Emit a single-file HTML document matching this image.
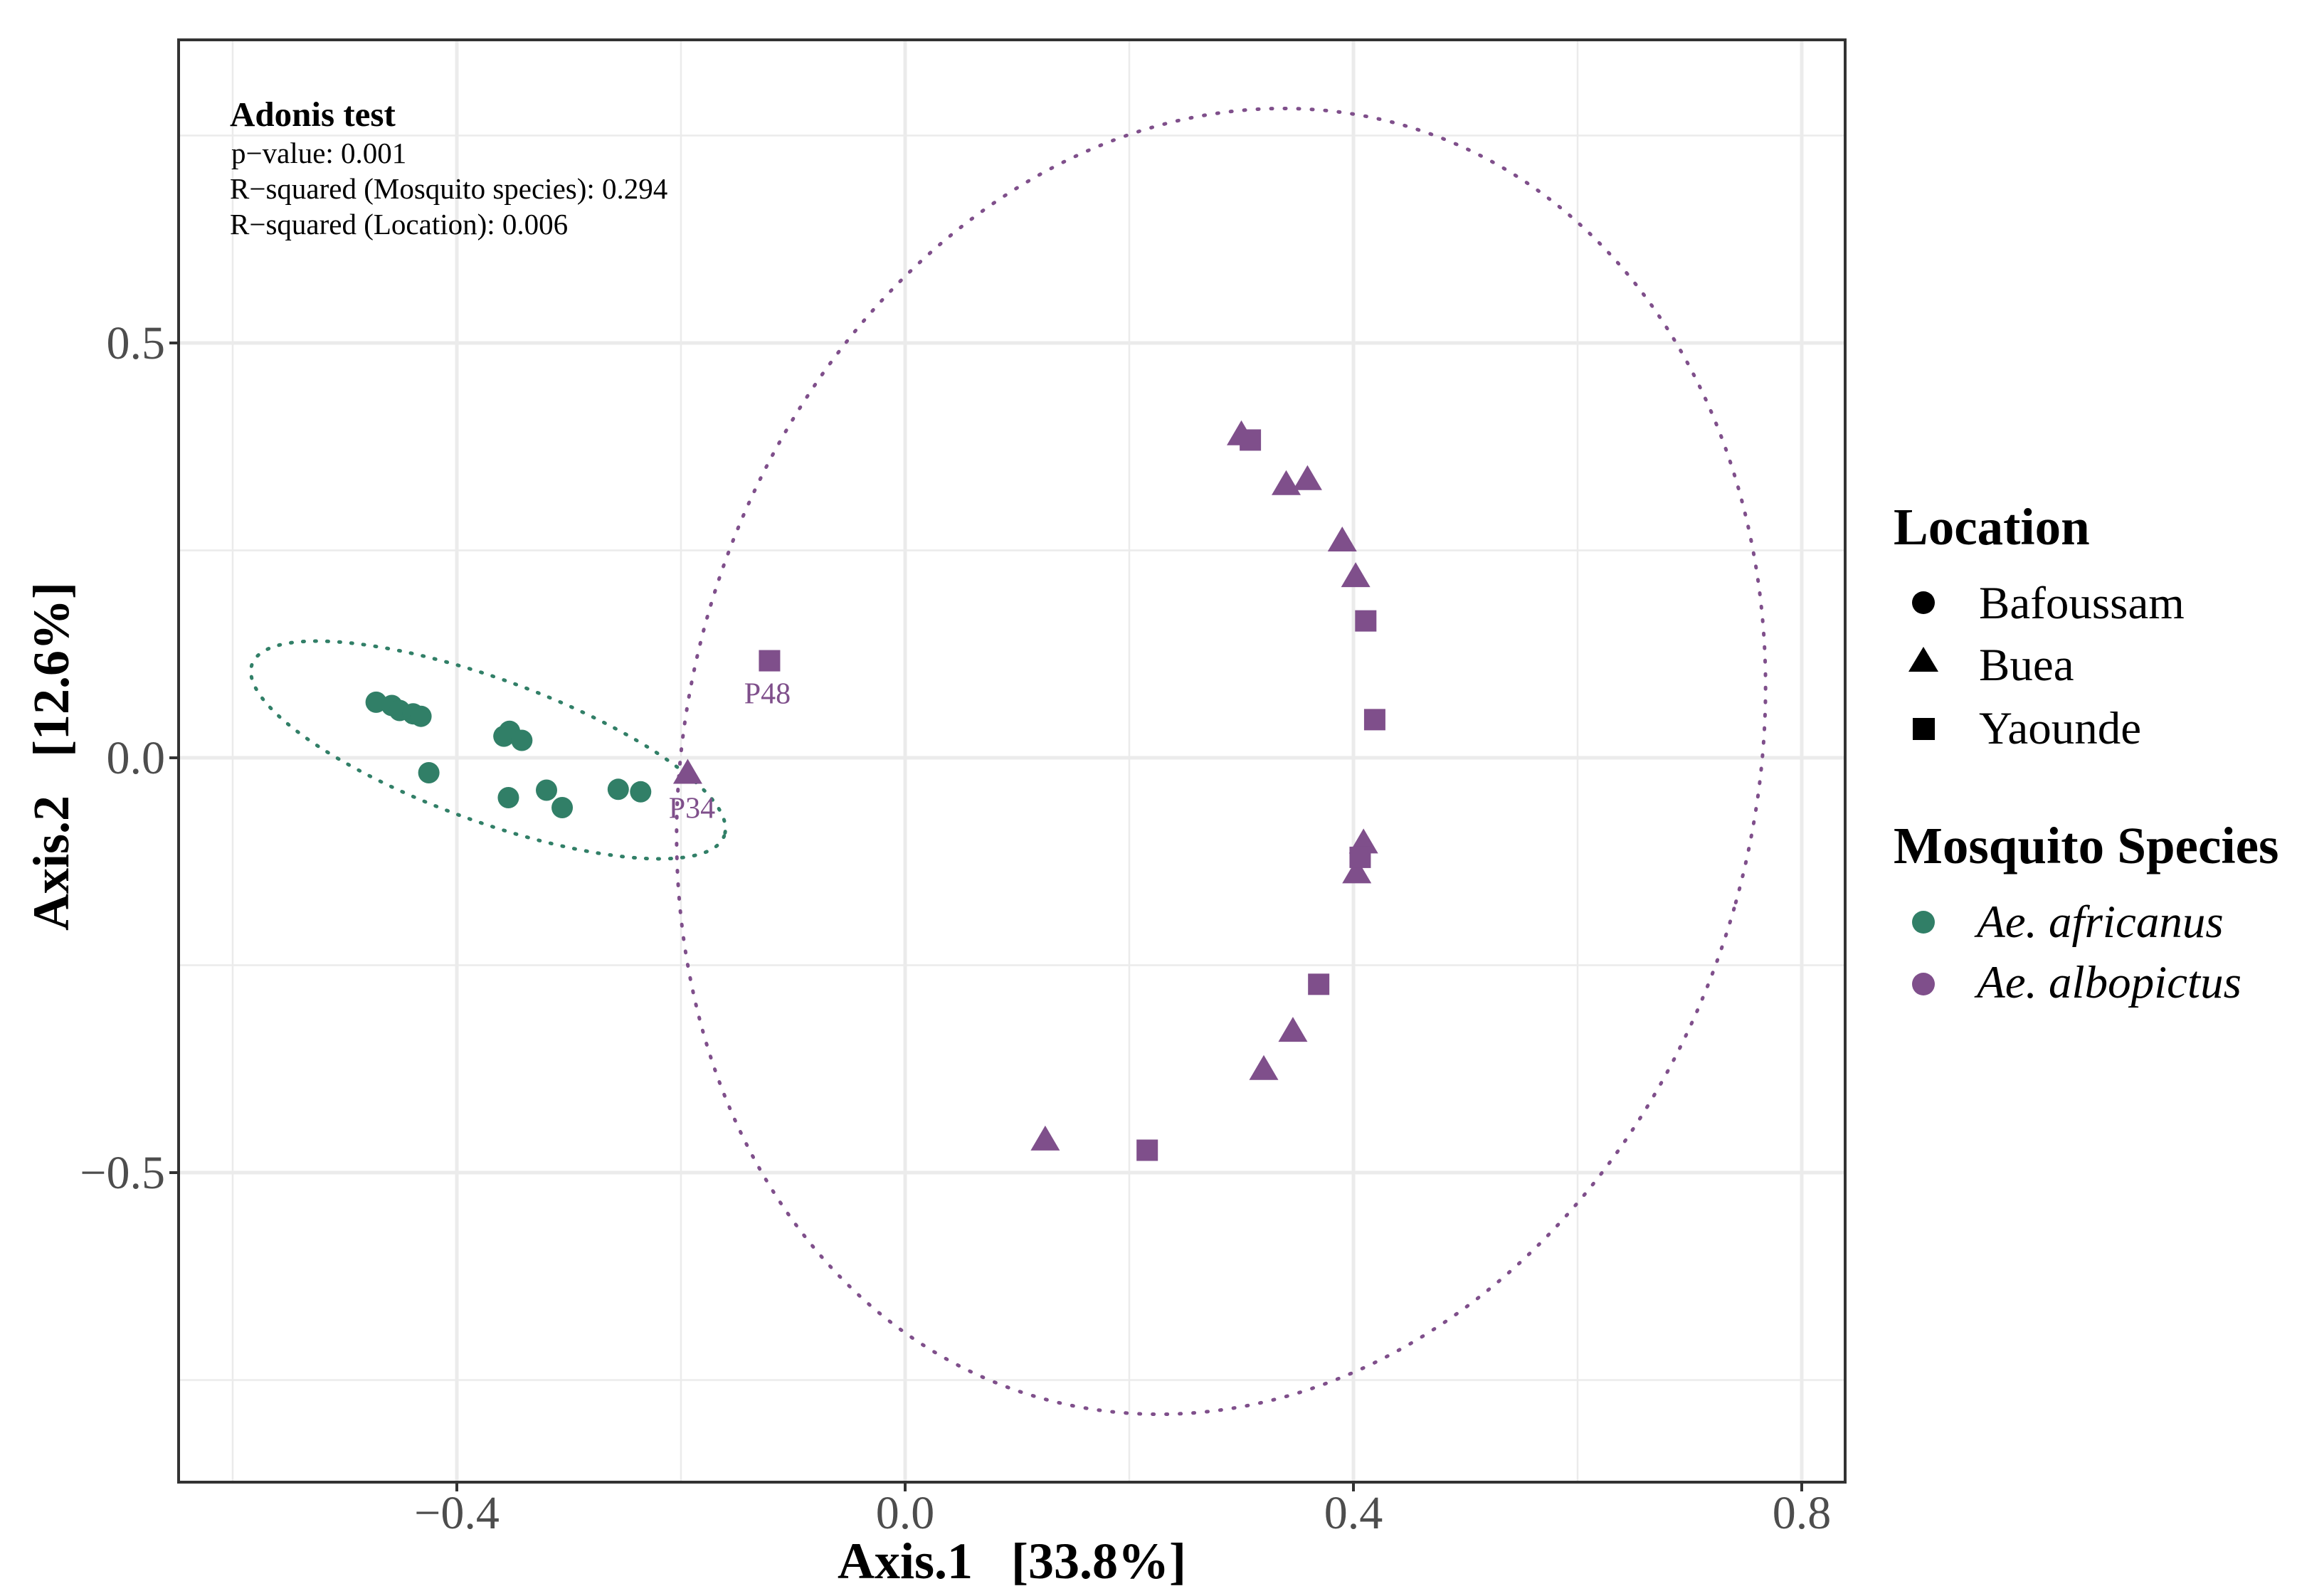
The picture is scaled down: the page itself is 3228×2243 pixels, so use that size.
<!DOCTYPE html>
<html><head><meta charset="utf-8">
<style>
html,body{margin:0;padding:0;background:#fff;}
svg{display:block;}
text{font-family:"Liberation Serif",serif;}
</style></head>
<body>
<svg id="chart" width="3228" height="2243" viewBox="0 0 3228 2243" xmlns="http://www.w3.org/2000/svg">
<rect x="0" y="0" width="3228" height="2243" fill="#fff"/>
<g id="grid"></g>
<g id="ellipses"></g>
<g id="points"></g>
<g id="labels"></g>
<rect x="251" y="56" width="2342" height="2027" fill="none" stroke="#333" stroke-width="4"/>
<g id="axes"></g>
<g>
<text x="323" y="177" font-size="49" font-weight="bold">Adonis test</text>
<text x="325" y="229" font-size="41">p−value: 0.001</text>
<text x="323" y="279" font-size="41">R−squared (Mosquito species): 0.294</text>
<text x="323" y="329" font-size="41">R−squared (Location): 0.006</text>
</g>
<text x="1422" y="2218" font-size="72" font-weight="bold" text-anchor="middle" xml:space="preserve">Axis.1   [33.8%]</text>
<text transform="translate(96,1063) rotate(-90)" font-size="72" font-weight="bold" text-anchor="middle" xml:space="preserve">Axis.2   [12.6%]</text>
<g>
<text x="2661" y="765" font-size="73" font-weight="bold">Location</text>
<circle cx="2703" cy="847" r="16" fill="#000"/>
<text x="2781" y="869" font-size="65">Bafoussam</text>
<polygon points="2682,944 2724,944 2703,909" fill="#000"/>
<text x="2781" y="956" font-size="65">Buea</text>
<rect x="2688" y="1009" width="31" height="31" fill="#000"/>
<text x="2781" y="1045" font-size="65">Yaounde</text>
<text x="2661" y="1213" font-size="73" font-weight="bold">Mosquito Species</text>
<circle cx="2703" cy="1296" r="16" fill="#317F67"/>
<text x="2778" y="1317" font-size="65" font-style="italic">Ae. africanus</text>
<circle cx="2703" cy="1383" r="16" fill="#7F4F8B"/>
<text x="2778" y="1402" font-size="65" font-style="italic">Ae. albopictus</text>
</g>
</svg>
<script>
const greenX = [-0.472,-0.458,-0.451,-0.439,-0.432,-0.358,-0.353,-0.342,-0.425,-0.354,-0.320,-0.306,-0.256,-0.236];
const greenY = [0.067,0.063,0.057,0.053,0.050,0.026,0.032,0.021,-0.018,-0.048,-0.039,-0.060,-0.038,-0.041];
const triX = [0.300,0.340,0.359,0.390,0.402,0.409,0.403,0.346,0.320,0.125,-0.194];
const triY = [0.387,0.327,0.333,0.259,0.216,-0.105,-0.141,-0.332,-0.378,-0.463,-0.021];
const sqX = [0.308,0.411,0.419,0.406,0.369,0.216,-0.121];
const sqY = [0.383,0.165,0.046,-0.120,-0.273,-0.473,0.117];
const xTicks = [-0.4,0.0,0.4,0.8];
const xTickLabels = ["−0.4","0.0","0.4","0.8"];
const xMinor = [-0.6,-0.2,0.2,0.6];
const yTicks = [-0.5,0.0,0.5];
const yTickLabels = ["−0.5","0.0","0.5"];
const yMinor = [-0.75,-0.25,0.25,0.75];

const NS="http://www.w3.org/2000/svg";
const X0=251,X1=2593,Y0=56,Y1=2083;
function sx(v){return 1272+v*1575;}
function sy(v){return 1065-v*1166;}
function mk(tag,attrs,parent){const e=document.createElementNS(NS,tag);for(const k in attrs)e.setAttribute(k,attrs[k]);parent.appendChild(e);return e;}
const grid=document.getElementById('grid'),axes=document.getElementById('axes'),pts=document.getElementById('points'),ell=document.getElementById('ellipses'),lab=document.getElementById('labels');
xMinor.forEach(v=>{const l=mk('line',{x1:sx(v),x2:sx(v),y1:Y0,y2:Y1,stroke:'#EBEBEB','stroke-width':2.5},grid);

});
yMinor.forEach(v=>{const l=mk('line',{x1:X0,x2:X1,y1:sy(v),y2:sy(v),stroke:'#EBEBEB','stroke-width':2.5},grid);

});
xTicks.forEach((v,i)=>{const l=mk('line',{x1:sx(v),x2:sx(v),y1:Y0,y2:Y1,stroke:'#EBEBEB','stroke-width':5},grid);


mk('line',{x1:sx(v),x2:sx(v),y1:Y1,y2:Y1+13,stroke:'#333','stroke-width':4},axes);
const t=mk('text',{x:sx(v),y:2148,'font-size':66,fill:'#4D4D4D','text-anchor':'middle'},axes);t.textContent=xTickLabels[i];

});
yTicks.forEach((v,i)=>{const l=mk('line',{x1:X0,x2:X1,y1:sy(v),y2:sy(v),stroke:'#EBEBEB','stroke-width':5},grid);


mk('line',{x1:X0-13,x2:X0,y1:sy(v),y2:sy(v),stroke:'#333','stroke-width':4},axes);
const t=mk('text',{x:232,y:sy(v)+22,'font-size':66,fill:'#4D4D4D','text-anchor':'end'},axes);t.textContent=yTickLabels[i];

});
const e1=mk('ellipse',{cx:1716,cy:1070,rx:750,ry:930,transform:'rotate(16 1716 1070)',fill:'none',stroke:'#7F4F8B','stroke-width':5,'stroke-dasharray':'2 17','stroke-linecap':'round'},ell);


const e2=mk('ellipse',{cx:686,cy:1054,rx:353,ry:100,transform:'rotate(20 686 1054)',fill:'none',stroke:'#317F67','stroke-width':5,'stroke-dasharray':'2 15','stroke-linecap':'round'},ell);


greenX.forEach((v,i)=>{const c=mk('circle',{cx:sx(v),cy:sy(greenY[i]),r:15,fill:'#317F67'},pts);

});
triX.forEach((v,i)=>{const x=sx(v),y=sy(triY[i]);const p=mk('polygon',{points:`${x-20.5},${y+12} ${x+20.5},${y+12} ${x},${y-23}`,fill:'#7F4F8B'},pts);

});
sqX.forEach((v,i)=>{const x=sx(v),y=sy(sqY[i]);const r=mk('rect',{x:x-15,y:y-15,width:30,height:30,fill:'#7F4F8B'},pts);

});
const l1=mk('text',{x:sx(-0.194)+6,y:sy(-0.021)+60,'font-size':42,fill:'#7F4F8B','text-anchor':'middle'},lab);l1.textContent='P34';


const l2=mk('text',{x:sx(-0.121)-3,y:sy(0.117)+60,'font-size':42,fill:'#7F4F8B','text-anchor':'middle'},lab);l2.textContent='P48';


</script>
</body></html>
